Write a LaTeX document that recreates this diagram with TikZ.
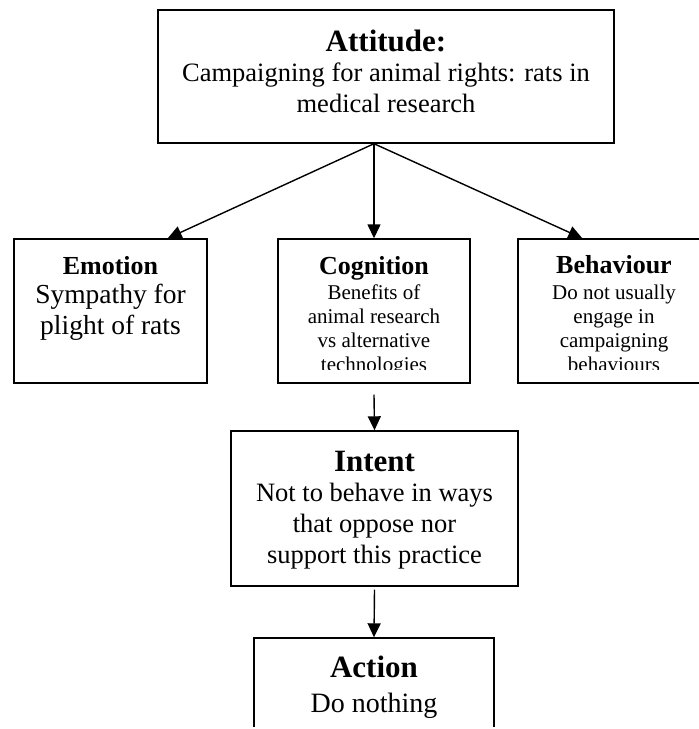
\documentclass[tikz,border=0pt]{standalone}
\usepackage{fontspec}
\setmainfont{Liberation Serif}
\usepackage{tikz}
\usetikzlibrary{arrows.meta,positioning}
\tikzstyle{box} = [rectangle, draw, line width=1.4pt, inner sep=0pt]
\tikzstyle{line} = [draw, line width=1.4pt, -{Triangle[length=14pt,width=13pt]}]
\tikzstyle{bigtitle} = [inner sep=0pt, font=\bfseries\fontsize{31}{36}\selectfont]
\tikzstyle{midtitle} = [inner sep=0pt, font=\bfseries\fontsize{26}{30}\selectfont]
\tikzstyle{bodytext} = [align=center, inner sep=0pt, font=\fontsize{26.5}{30.8}\selectfont]
\tikzstyle{smalltext} = [align=center, inner sep=0pt, font=\fontsize{21}{24}\selectfont]

\begin{document}
\begin{tikzpicture}[x=1pt, y=-1pt]
    \useasboundingbox (0,0) rectangle (699,729);
    \clip (0,0) rectangle (699,726);
    % Kutular
    \node [box, minimum width=456pt, minimum height=133pt] (attitude) at (386,76.5) {};
    \node [box, minimum width=193pt, minimum height=144pt] (emotion) at (110.5,311) {};
    \node [box, minimum width=192pt, minimum height=144pt] (cognition) at (374,311) {};
    \node [box, minimum width=192pt, minimum height=144pt] (behaviour) at (614,311) {};
    \node [box, minimum width=287pt, minimum height=155pt] (intent) at (374.5,508.5) {};
    \node [box, minimum width=240pt, minimum height=124pt] (action) at (374,700) {};
    % Yazilar (base = son satir)
    \node [bigtitle, anchor=base] (attitudeTitle) at ([yshift=-42pt]attitude.north) {Attitude:};
    \node [bodytext, anchor=base] (attitudeText) at ([yshift=-103pt]attitude.north)
        {Campaigning for animal rights: rats in\\ medical research};
    \node [midtitle, anchor=base] (emotionTitle) at ([yshift=-36pt]emotion.north) {Emotion};
    \node [bodytext, anchor=base, font=\fontsize{27.5}{31}\selectfont] (emotionText)
        at ([yshift=-96pt]emotion.north) {Sympathy for\\ plight of rats};
    \node [midtitle, anchor=base] (cognitionTitle) at ([yshift=-36pt]cognition.north) {Cognition};
    \node [midtitle, anchor=base] (behaviourTitle) at ([yshift=-35pt]behaviour.north) {Behaviour};
    \begin{scope}
        \clip (0,0) rectangle (699,369);
        \node [smalltext, anchor=base] (cognitionText) at ([yshift=-133pt]cognition.north)
            {Benefits of\\ animal research\\ vs alternative\\ technologies};
        \node [smalltext, anchor=base] (behaviourText) at ([yshift=-133pt]behaviour.north)
            {Do not usually\\ engage in\\ campaigning\\ behaviours};
    \end{scope}
    \node [bigtitle, anchor=base] (intentTitle) at ([yshift=-41pt]intent.north) {Intent};
    \node [bodytext, anchor=base] (intentText) at ([yshift=-133pt]intent.north)
        {Not to behave in ways\\ that oppose nor\\ support this practice};
    \node [bigtitle, anchor=base] (actionTitle) at ([yshift=-40pt]action.north) {Action};
    \node [bodytext, anchor=base, font=\fontsize{28}{32}\selectfont] (actionText)
        at ([yshift=-75pt]action.north) {Do nothing};
    % Oklar
    \coordinate (apex) at ([xshift=-12pt]attitude.south);
    \path [line] (apex) -- ([xshift=-40pt]emotion.north east);
    \path [line] (apex) -- (cognition.north);
    \path [line] (apex) -- ([xshift=65pt]behaviour.north west);
    \path [line] ([yshift=-11pt]cognition.south) -- (intent.north);
    \path [line] ([yshift=-3pt]intent.south) -- (action.north);
\end{tikzpicture}
\end{document}
